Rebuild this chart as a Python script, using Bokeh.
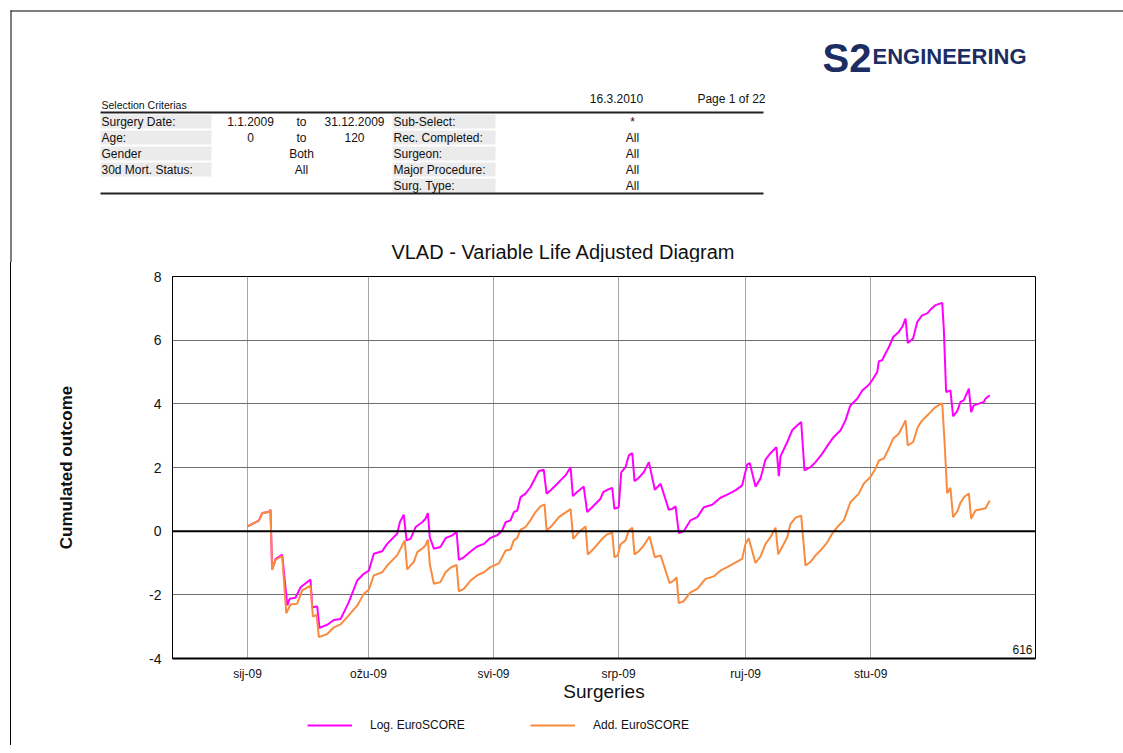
from bokeh.plotting import figure
from bokeh.models import Range1d, FixedTicker, Span, Label, Legend, LegendItem
from bokeh.embed import file_html
from bokeh.resources import INLINE
from bokeh.core.properties import value

# ---------------- data (x = days since 1.1.2009) ----------------
log_days = [0, 5.5, 7.2, 10.4, 11.2, 12.0, 13.7, 16.9, 19.4, 20.6,
            23.4, 25.9, 30.7, 31.6, 34.0, 35.1, 38.9, 42.1, 45.4, 47.0,
            49.4, 53.5, 56.7, 59.2, 61.6, 65.7, 68.1, 73.0, 74.3, 76.2,
            77.6, 79.5, 82.0, 85.2, 86.8, 88.0, 88.9, 90.9, 94.1, 96.6,
            99.9, 102.0, 103.1, 105.5, 108.8, 112.0, 115.3, 118.5, 121.8, 124.2,
            125.9, 128.3, 129.9, 131.6, 133.2, 135.6, 138.0, 139.7, 142.1, 144.5,
            145.9, 147.8, 151.1, 153.5, 155.1, 157.6, 158.7, 160.8, 164.0, 165.7,
            168.1, 172.2, 173.5, 175.5, 177.9, 179.0, 181.1, 182.3, 184.4, 186.0,
            187.7, 188.8, 190.9, 193.3, 195.8, 198.7, 201.5, 205.5, 207.2, 208.8,
            210.4, 212.8, 216.1, 219.4, 222.6, 226.7, 230.7, 234.0, 238.0, 241.3,
            243.8, 245.0, 247.8, 250.2, 252.7, 255.1, 258.0, 259.2, 260.0, 263.3,
            265.7, 268.1, 270.1, 271.7, 274.6, 277.1, 280.3, 283.6, 286.0, 289.3,
            291.7, 294.1, 297.4, 299.9, 303.1, 304.7, 307.2, 308.0, 309.6, 311.2,
            312.8, 315.0, 317.7, 319.4, 321.0, 322.1, 324.7, 326.7, 329.1, 331.6,
            333.2, 335.6, 338.9, 339.7, 340.8, 342.9, 344.2, 346.2, 347.8, 349.4,
            351.9, 353.0, 354.3, 359.2, 360.0, 362.1]
log_vals = [0.15, 0.33, 0.57, 0.60, 0.67, -1.20, -0.87, -0.74, -2.33, -2.12,
            -2.09, -1.76, -1.52, -2.39, -2.37, -3.04, -2.94, -2.79, -2.76, -2.55,
            -2.23, -1.55, -1.34, -1.24, -0.71, -0.63, -0.40, -0.08, 0.28, 0.52,
            -0.29, -0.24, 0.13, 0.28, 0.39, 0.57, -0.19, -0.55, -0.50, -0.22,
            -0.13, -0.03, -0.90, -0.82, -0.64, -0.48, -0.40, -0.21, -0.13, 0.02,
            0.28, 0.34, 0.60, 0.65, 1.07, 1.18, 1.38, 1.59, 1.89, 1.93,
            1.18, 1.28, 1.49, 1.65, 1.75, 2.01, 1.10, 1.23, 1.40, 0.60,
            0.75, 1.02, 1.23, 1.30, 1.36, 0.70, 0.75, 1.85, 2.01, 2.38,
            2.45, 1.57, 1.68, 1.85, 2.17, 1.30, 1.49, 0.67, 0.70, 0.78,
            -0.06, 0.00, 0.34, 0.44, 0.75, 0.83, 1.05, 1.15, 1.28, 1.44,
            2.10, 2.14, 1.40, 1.65, 2.25, 2.45, 2.64, 1.73, 2.35, 2.80,
            3.17, 3.32, 3.43, 1.91, 2.01, 2.17, 2.43, 2.75, 2.96, 3.17,
            3.48, 3.95, 4.16, 4.42, 4.60, 4.74, 5.00, 5.34, 5.37, 5.58,
            5.77, 6.10, 6.26, 6.42, 6.68, 5.91, 6.05, 6.57, 6.78, 6.84,
            6.96, 7.10, 7.17, 6.31, 4.37, 4.42, 3.61, 3.77, 4.06, 4.11,
            4.48, 3.74, 3.95, 4.06, 4.16, 4.27]

add_days = [0, 5.5, 7.2, 10.4, 11.2, 12.0, 13.7, 16.9, 18.9, 21.0,
            24.2, 26.7, 30.7, 31.9, 33.7, 34.8, 38.9, 42.1, 45.4, 48.6,
            53.5, 56.7, 59.2, 61.6, 65.7, 68.1, 73.0, 76.7, 77.9, 79.5,
            81.1, 82.8, 85.2, 86.8, 88.0, 88.9, 90.9, 94.1, 96.6, 99.0,
            102.0, 103.1, 105.5, 108.8, 112.0, 115.3, 118.5, 122.6, 124.2, 125.9,
            128.3, 129.9, 131.6, 133.2, 135.6, 138.0, 140.5, 142.9, 144.9, 145.9,
            148.6, 151.9, 154.3, 157.6, 158.9, 161.6, 164.9, 166.0, 168.9, 173.0,
            175.5, 177.9, 179.0, 180.6, 181.9, 184.4, 186.0, 187.7, 188.8, 190.9,
            193.3, 196.1, 198.7, 201.5, 205.9, 208.0, 209.3, 210.4, 212.8, 216.1,
            219.4, 223.4, 227.5, 230.7, 234.0, 238.0, 241.3, 242.9, 244.5, 247.8,
            250.2, 252.7, 255.1, 257.6, 258.9, 260.8, 263.3, 264.9, 267.3, 270.1,
            272.2, 274.6, 277.1, 279.5, 282.8, 285.2, 287.7, 290.9, 294.1, 298.2,
            300.6, 303.9, 306.3, 308.0, 310.4, 312.8, 315.0, 317.7, 319.4, 321.0,
            322.1, 324.7, 327.0, 329.1, 330.7, 333.2, 335.6, 338.9, 340.0, 341.3,
            342.9, 344.2, 346.5, 347.7, 349.8, 351.9, 353.0, 355.1, 360.0, 362.1]
add_vals = [0.15, 0.33, 0.57, 0.60, 0.67, -1.21, -0.90, -0.78, -2.58, -2.30,
            -2.28, -1.86, -1.71, -2.68, -2.63, -3.33, -3.23, -3.02, -2.93, -2.70,
            -2.34, -1.97, -1.84, -1.39, -1.29, -1.08, -0.76, -0.29, -1.20, -1.08,
            -0.97, -0.66, -0.55, -0.45, -0.27, -1.03, -1.65, -1.60, -1.29, -1.15,
            -1.06, -1.89, -1.81, -1.55, -1.39, -1.29, -1.13, -1.01, -0.82, -0.61,
            -0.58, -0.29, -0.21, 0.05, 0.13, 0.34, 0.60, 0.78, 0.84, 0.02,
            0.18, 0.44, 0.55, 0.69, -0.24, -0.03, 0.15, -0.73, -0.55, -0.24,
            -0.10, -0.05, -0.82, -0.76, -0.42, -0.29, 0.02, 0.11, -0.73, -0.63,
            -0.45, -0.17, -0.82, -0.76, -1.63, -1.55, -1.45, -2.26, -2.20, -1.92,
            -1.81, -1.50, -1.42, -1.24, -1.13, -0.99, -0.87, -0.40, -0.22, -1.00,
            -0.80, -0.40, -0.19, 0.11, -0.73, -0.50, -0.19, 0.23, 0.42, 0.49,
            -1.08, -0.97, -0.76, -0.61, -0.35, -0.08, 0.13, 0.34, 0.91, 1.18,
            1.49, 1.70, 1.96, 2.22, 2.28, 2.59, 2.91, 3.06, 3.27, 3.48,
            2.69, 2.80, 3.27, 3.48, 3.58, 3.74, 3.90, 4.02, 2.85, 1.19,
            1.36, 0.44, 0.65, 0.88, 1.09, 1.18, 0.39, 0.65, 0.72, 0.96]

month_ticks = [0, 59, 120, 181, 243, 304]
month_labels = ["sij-09", "ožu-09", "svi-09", "srp-09", "ruj-09", "stu-09"]
y_ticks = [-4, -2, 0, 2, 4, 6, 8]
y_labels = ["-4", "-2", "0", "2", "4", "6", "8"]
series_names = ["Log. EuroSCORE", "Add. EuroSCORE"]
series_colors = ["#ff00ff", "#f98b3f"]
n_surgeries = "616"
chart_title = "VLAD - Variable Life Adjusted Diagram"

# header table content
crit_labels_a = ["Surgery Date:", "Age:", "Gender", "30d Mort. Status:"]
crit_from = ["1.1.2009", "0"]
crit_mid = ["to", "to", "Both", "All"]
crit_to = ["31.12.2009", "120"]
crit_labels_b = ["Sub-Select:", "Rec. Completed:", "Surgeon:", "Major Procedure:", "Surg. Type:"]
crit_vals_b = ["*", "All", "All", "All", "All"]

FONT = "Liberation Sans"
W = 1123
HEADER_H = 262
CHART_H = 451
LEGEND_H = 32
LEFT_GAP = 10
CW = 1115 - LEFT_GAP - 1

# ---------------- header (page decorations + chart title, pixel coordinates) ----------------
h = figure(width=W, height=HEADER_H, x_range=Range1d(0, W), y_range=Range1d(HEADER_H, 0),
           output_backend="svg", toolbar_location=None, min_border=0)
h.axis.visible = False
h.grid.visible = False
h.outline_line_color = None

# page frame (top and left edge)
h.segment(x0=[10, 10.5], x1=[W, 10.5], y0=[10.5, 10], y1=[10.5, HEADER_H], line_color="black", line_width=1)

NAVY = "#1b2d62"
h.text(x=[822], y=[57], text=["S2"], text_font=value(FONT), text_font_style="bold",
       text_font_size="40px", text_color=NAVY, text_baseline="alphabetic", text_align="left")
h.text(x=[872], y=[56], text=["ENGINEERING"], text_font=value(FONT), text_font_style="bold",
       text_font_size="22px", text_color=NAVY, text_baseline="alphabetic", text_align="left")

row_y = [121, 137, 153, 169, 185]
h.quad(left=100, right=211, top=[y - 7 for y in row_y[:4]], bottom=[y + 7 for y in row_y[:4]],
       fill_color="#ebebeb", line_color=None)
h.quad(left=392, right=495, top=[y - 7 for y in row_y], bottom=[y + 7 for y in row_y],
       fill_color="#ebebeb", line_color=None)
h.segment(x0=[100, 100], x1=[763, 763], y0=[112, 193], y1=[112, 193], line_color="#222222", line_width=2)

def htext(xs, ys, txt, align="left", size="12px"):
    h.text(x=xs, y=ys, text=txt, text_font=value(FONT), text_font_size=size,
           text_color="#111111", text_baseline="middle", text_align=align)

htext([101], [104], ["Selection Criterias"], size="10.5px")
htext([616], [98], ["16.3.2010"], align="center")
htext([765], [98], ["Page 1 of 22"], align="right")
htext([101] * 4, row_y[:4], crit_labels_a)
htext([250] * 2, row_y[:2], crit_from, align="center")
htext([301] * 4, row_y[:4], crit_mid, align="center")
htext([354] * 2, row_y[:2], crit_to, align="center")
htext([393] * 5, row_y, crit_labels_b)
htext([632] * 5, row_y, crit_vals_b, align="center")
htext([563], [251], [chart_title], align="center", size="20px")

# ---------------- chart ----------------
p = figure(width=CW, height=CHART_H, x_range=Range1d(-36.6, 384.4), y_range=Range1d(-4, 8),
           output_backend="svg", toolbar_location=None,
           min_border_left=172 - LEFT_GAP - 1, min_border_right=80, min_border_top=14, min_border_bottom=55)
p.margin = (0, 0, 0, LEFT_GAP)
p.styles = {"border-left": "1px solid #000"}

p.outline_line_color = "black"
p.outline_line_width = 1
p.background_fill_color = "white"

p.xaxis.ticker = FixedTicker(ticks=month_ticks)
p.xaxis.major_label_overrides = dict(zip(month_ticks, month_labels))
p.yaxis.ticker = FixedTicker(ticks=y_ticks)
p.yaxis.major_label_overrides = dict(zip(y_ticks, y_labels))
p.xgrid.ticker = FixedTicker(ticks=month_ticks)
p.ygrid.ticker = FixedTicker(ticks=y_ticks)
p.xgrid.grid_line_color = "#a6a6a6"
p.ygrid.grid_line_color = "#6e6e6e"

for ax in (p.xaxis, p.yaxis):
    ax.major_tick_line_color = None
    ax.minor_tick_line_color = None
    ax.major_tick_out = 0
    ax.major_tick_in = 0
    ax.minor_tick_out = 0
    ax.major_label_text_font = FONT
    ax.major_label_text_color = "#111111"
    ax.axis_label_text_font = FONT
    ax.axis_label_text_color = "#111111"
    ax.axis_line_color = "black"

p.xaxis.axis_line_width = 2
p.xaxis.major_label_text_font_size = "12px"
p.xaxis.major_label_standoff = 8
p.xaxis.axis_label = "Surgeries"
p.xaxis.axis_label_text_font_size = "19px"
p.xaxis.axis_label_text_font_style = "normal"
p.xaxis.axis_label_standoff = -3

p.yaxis.major_label_text_font_size = "14px"
p.yaxis.major_label_standoff = 11
p.yaxis.axis_label = "Cumulated outcome"
p.yaxis.axis_label_text_font_size = "17px"
p.yaxis.axis_label_text_font_style = "bold"
p.yaxis.axis_label_standoff = 70

p.add_layout(Span(location=0, dimension="width", line_color="black", line_width=2))

p.line(log_days, log_vals, line_color=series_colors[0], line_width=2)
p.line(add_days, add_vals, line_color=series_colors[1], line_width=2)

p.add_layout(Label(x=384.4, y=-4, x_offset=-3, y_offset=5, text=n_surgeries, text_align="right",
                   text_baseline="bottom", text_font=FONT, text_font_size="12px",
                   text_color="#111111"))

# ---------------- legend strip below the chart ----------------
# proxy renderers carry the same series; the strip's y-range keeps them off-screen
lg = figure(width=CW, height=LEGEND_H, x_range=Range1d(0, CW), y_range=Range1d(1000, 1000 + LEGEND_H),
            output_backend="svg", toolbar_location=None, min_border=0)
lg.margin = (0, 0, 0, LEFT_GAP)
lg.styles = {"border-left": "1px solid #000"}
lg.axis.visible = False
lg.grid.visible = False
lg.outline_line_color = None
leg_r = [lg.line(x=d, y=v, line_color=c, line_width=2)
         for d, v, c in zip([log_days, add_days], [log_vals, add_vals], series_colors)]
legend = Legend(items=[LegendItem(label=n, renderers=[r]) for n, r in zip(series_names, leg_r)],
                orientation="horizontal", location=(296, 12), glyph_width=45, glyph_height=16,
                label_standoff=18, label_width=160, spacing=0, padding=0, margin=0,
                border_line_color=None, background_fill_alpha=0,
                label_text_font=FONT, label_text_font_size="12px", label_text_color="#111111")
lg.add_layout(legend, "center")

open("out.html", "w").write(file_html([h, p, lg], INLINE))
